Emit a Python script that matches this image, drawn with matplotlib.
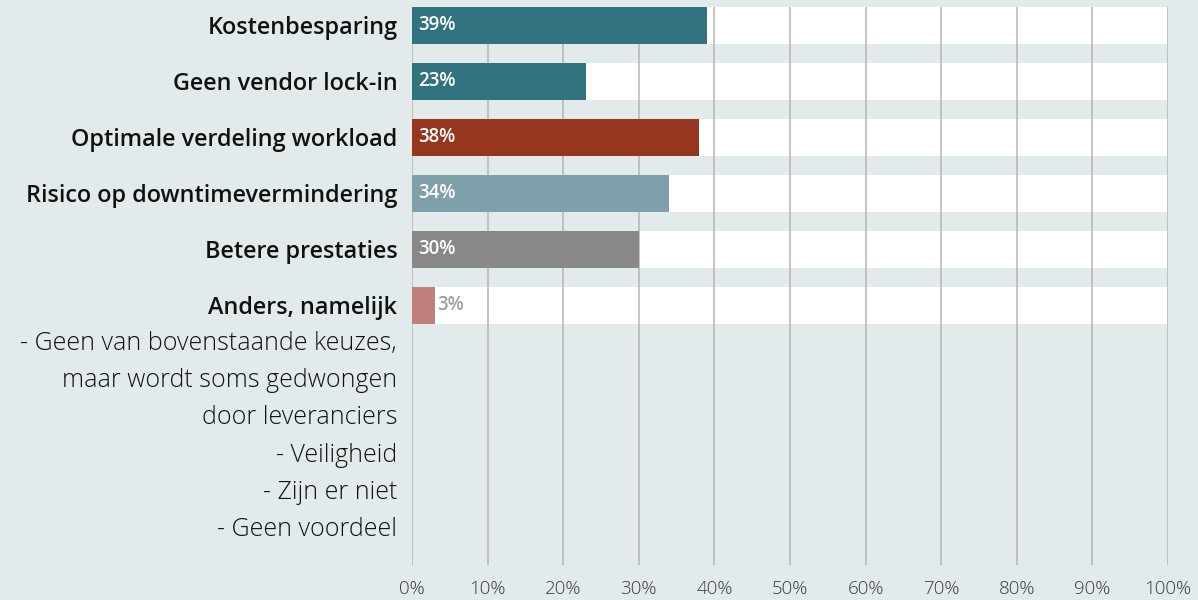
import matplotlib
matplotlib.use("Agg")
import matplotlib.pyplot as plt

categories = [
    "Kostenbesparing",
    "Geen vendor lock-in",
    "Optimale verdeling workload",
    "Risico op downtimevermindering",
    "Betere prestaties",
    "Anders, namelijk",
]
values = [39, 23, 38, 34, 30, 3]
bar_colors = ["#31737e", "#31737e", "#96361f", "#7fa0aa", "#888888", "#c17f7e"]
other_lines = [
    "- Geen van bovenstaande keuzes,",
    "maar wordt soms gedwongen",
    "door leveranciers",
    "- Veiligheid",
    "- Zijn er niet",
    "- Geen voordeel",
]
x_ticks = list(range(0, 101, 10))

BG = "#e3eaec"
plt.rcParams["font.family"] = ["Open Sans", "DejaVu Sans"]

fig = plt.figure(figsize=(11.98, 6.0), dpi=100, facecolor=BG)
ax = fig.add_axes([412 / 1198, 1 - 565 / 600, 756 / 1198, 558 / 600])
ax.set_facecolor(BG)

ypos = list(range(len(categories)))
bar_h = 0.66

# white background band for each row
ax.barh(ypos, [100] * len(ypos), height=bar_h, color="white", zorder=1)
for x in x_ticks:
    ax.axvline(x, color="#b4b4b4", linewidth=1.1, zorder=2)
ax.barh(ypos, values, height=bar_h, color=bar_colors, zorder=3)

for y, v in zip(ypos, values):
    if v >= 10:
        ax.text(0.8, y, f"{v}%", color="white", fontsize=13.5, fontweight="semibold",
                va="center", ha="left", zorder=4)
    else:
        ax.text(v + 0.3, y, f"{v}%", color="#a0a0a0", fontsize=13.5, fontweight="semibold",
                va="center", ha="left", zorder=4)

ax.set_xlim(0, 100)
ax.set_ylim(9.64, -0.33)
ax.set_yticks(ypos)
ax.set_yticklabels(categories, fontsize=16.8, fontweight="semibold", color="#111111")
ax.tick_params(axis="y", length=0, pad=10.5)
ax.set_xticks(x_ticks)
ax.set_xticklabels([f"{t}%" for t in x_ticks], fontsize=13.5, color="#3a3a3a",
                   fontweight="light")
ax.tick_params(axis="x", length=0, pad=10.5)
for s in ax.spines.values():
    s.set_visible(False)

# sub-answers listed under "Anders, namelijk"
row_px = 56.0
line_px = 37.3
for i, line in enumerate(other_lines):
    ydata = 5 + (38 + i * line_px) / row_px
    ax.text(-15 / 756 * 100, ydata, line, fontsize=18, color="#111111",
            fontweight="light", ha="right", va="center", clip_on=False)

fig.savefig("out.png", dpi=100, facecolor=BG)
